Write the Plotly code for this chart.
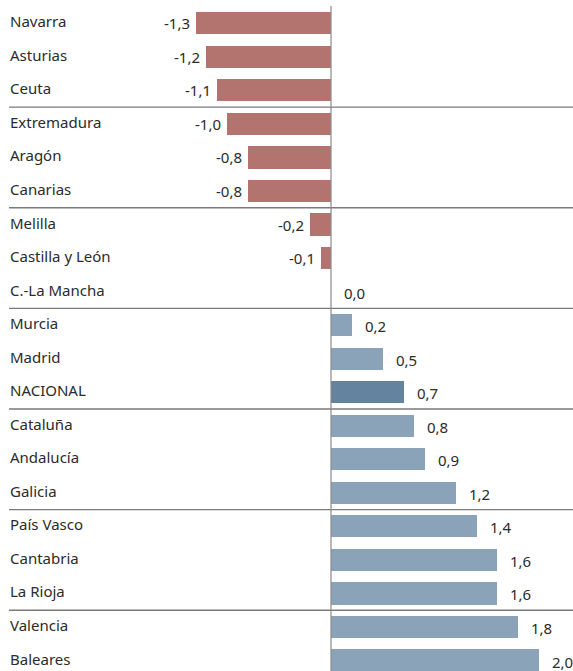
import plotly.graph_objects as go

regions = ["Navarra", "Asturias", "Ceuta", "Extremadura", "Aragón", "Canarias",
           "Melilla", "Castilla y León", "C.-La Mancha", "Murcia", "Madrid", "NACIONAL",
           "Cataluña", "Andalucía", "Galicia", "País Vasco", "Cantabria", "La Rioja",
           "Valencia", "Baleares"]
values = [-1.3, -1.2, -1.1, -1.0, -0.8, -0.8, -0.2, -0.1, 0.0, 0.2, 0.5, 0.7,
          0.8, 0.9, 1.2, 1.4, 1.6, 1.6, 1.8, 2.0]
value_labels = ["-1,3", "-1,2", "-1,1", "-1,0", "-0,8", "-0,8", "-0,2", "-0,1", "0,0",
                "0,2", "0,5", "0,7", "0,8", "0,9", "1,2", "1,4", "1,6", "1,6", "1,8", "2,0"]

W, H = 573, 671
NEG = "#b3736f"
POS = "#8aa3b9"
NAT = "#63839e"
FONT = "Noto Sans"
TXT = "#2b2b2b"

ys = list(range(len(regions)))
colors = []
for r, v in zip(regions, values):
    if r == "NACIONAL":
        colors.append(NAT)
    elif v < 0:
        colors.append(NEG)
    else:
        colors.append(POS)

fig = go.Figure()
fig.add_trace(go.Bar(x=values, y=ys, orientation="h", marker=dict(color=colors, line=dict(width=0)),
                     width=0.66, hoverinfo="skip"))

annotations = []
for y, r, v, t in zip(ys, regions, values, value_labels):
    annotations.append(dict(x=8 / W, xref="paper", y=y, yref="y", text=r, showarrow=False,
                            xanchor="left", yanchor="middle", yshift=2,
                            font=dict(family=FONT, size=15, color=TXT)))
    if v < 0:
        annotations.append(dict(x=v, xref="x", y=y, yref="y", text=t, showarrow=False,
                                xanchor="right", yanchor="middle", xshift=-4, yshift=0,
                                font=dict(family=FONT, size=15, color=TXT)))
    else:
        annotations.append(dict(x=v, xref="x", y=y, yref="y", text=t, showarrow=False,
                                xanchor="left", yanchor="middle", xshift=11, yshift=-1,
                                font=dict(family=FONT, size=15, color=TXT)))

shapes = []
for b in [2.5, 5.5, 8.5, 11.5, 14.5, 17.5]:
    shapes.append(dict(type="line", xref="paper", x0=9 / W, x1=1, yref="y", y0=b, y1=b,
                       line=dict(color="#7a7a7a", width=1.3)))
shapes.append(dict(type="line", xref="x", x0=0, x1=0, yref="paper", y0=0, y1=1 - 6 / H,
                   line=dict(color="#8a8a8a", width=1.2)))

px_per_unit = 104.0
zero_px = 331.0
xmin = -zero_px / px_per_unit
xmax = (W - zero_px) / px_per_unit
pitch = 33.54
first_center = 23.3
ytop = -first_center / pitch
ybot = (H - first_center) / pitch

fig.update_layout(
    width=W, height=H, margin=dict(l=0, r=0, t=0, b=0),
    paper_bgcolor="white", plot_bgcolor="white", showlegend=False,
    xaxis=dict(range=[xmin, xmax], visible=False, fixedrange=True),
    yaxis=dict(range=[ybot, ytop], visible=False, fixedrange=True),
    annotations=annotations, shapes=shapes, bargap=0,
)
fig.write_html("out.html", config={"displayModeBar": False})

with open("out.html", "r", encoding="utf-8") as f:
    html = f.read()
html = html.replace("<head>", "<head><style>html,body{margin:0;padding:0;overflow:hidden;}</style>", 1)
with open("out.html", "w", encoding="utf-8") as f:
    f.write(html)
